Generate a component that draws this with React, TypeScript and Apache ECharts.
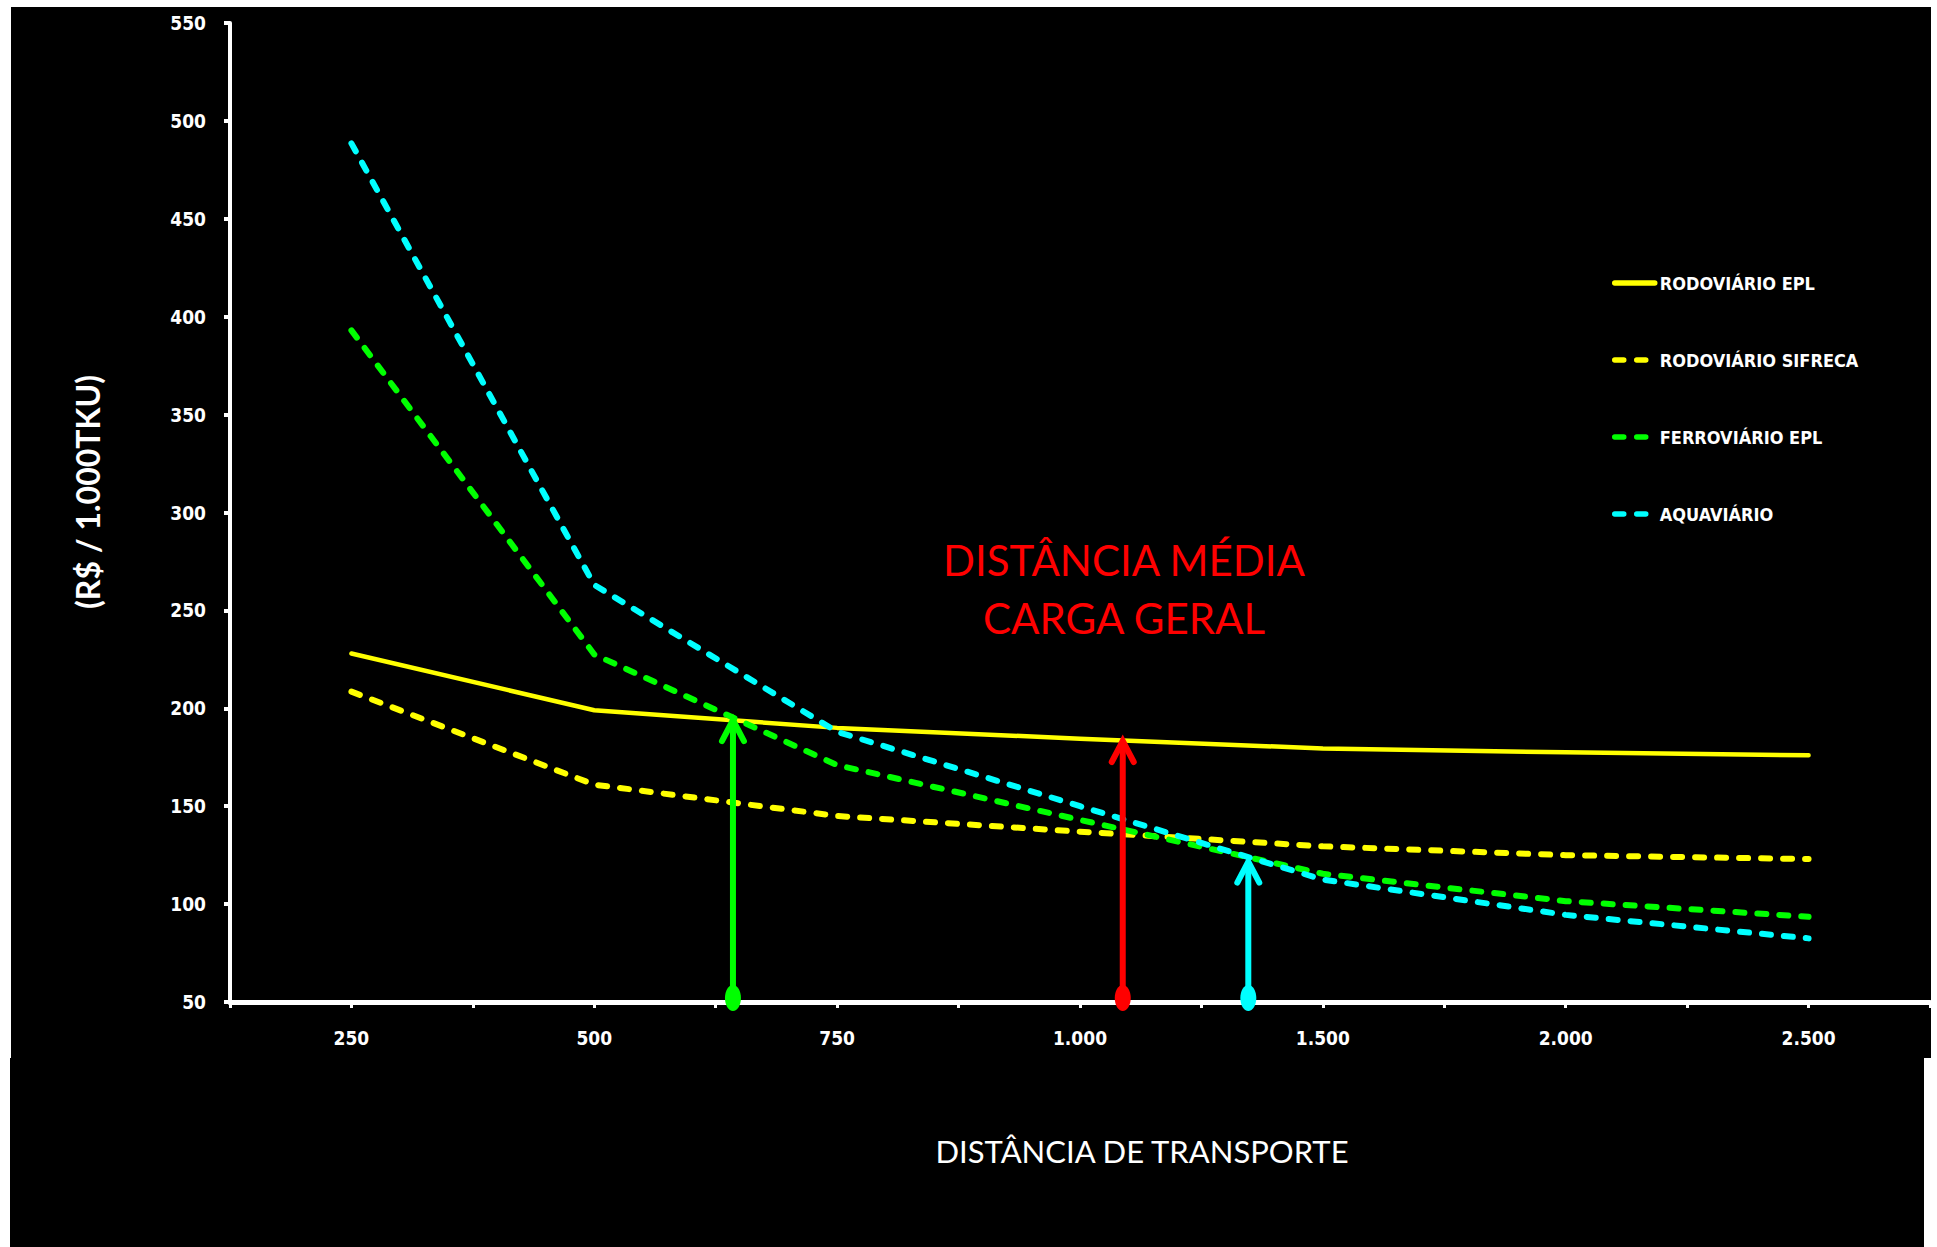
import React, { useEffect, useRef } from 'react';
import * as echarts from 'echarts';

// ---- data ----
const categories = ['250', '500', '750', '1.000', '1.500', '2.000', '2.500'];
const seriesNames = ['RODOVIÁRIO EPL', 'RODOVIÁRIO SIFRECA', 'FERROVIÁRIO EPL', 'AQUAVIÁRIO'];
const rodoviarioEpl = [228, 199, 190, 184.5, 179.5, 177.5, 176];
const rodoviarioSifreca = [208.5, 161, 145, 137, 129.5, 125, 123];
const ferroviarioEpl = [393, 227.5, 171, 143, 115.5, 101.5, 93.5];
const aquaviario = [488.5, 263, 188, 150, 112.5, 94.5, 82.5];
const yMin = 50;
const yMax = 550;
const yStep = 50;
// arrows: position along the category index scale, and the value they point to
const arrowX = [1.571, 3.176, 3.693];
const arrowY = [194, 183.3, 121.7];
const yAxisTitle = '(R$ / 1.000TKU)';
const xAxisTitle = 'DISTÂNCIA DE TRANSPORTE';
const noteLines = ['DISTÂNCIA MÉDIA', 'CARGA GERAL'];

// ---- styles ----
const YELLOW = '#FFFF00';
const GREEN = '#00FF00';
const CYAN = '#00FFFF';
const RED = '#FF0000';
const seriesColors = [YELLOW, YELLOW, GREEN, CYAN];
const seriesDashed = [false, true, true, true];
const arrowColors = [GREEN, RED, CYAN];
const NARROW = '"Liberation Sans Narrow", "DejaVu Sans Condensed", "Arial Narrow", sans-serif';
const LATO = 'Lato, "Open Sans", sans-serif';

function lineStyleFor(s: number) {
  return seriesDashed[s]
    ? { color: seriesColors[s], width: 6, type: [9, 13], cap: 'round', join: 'round' }
    : { color: seriesColors[s], width: 4.5, type: 'solid', cap: 'round', join: 'round' };
}

export default function App() {
  const ref = useRef<HTMLDivElement>(null);

  useEffect(() => {
    if (!ref.current) return;
    const chart = echarts.init(ref.current, null, { renderer: 'svg' });
    const values = [rodoviarioEpl, rodoviarioSifreca, ferroviarioEpl, aquaviario];

    const lineSeries = values.map((vals, s) => ({
      name: seriesNames[s],
      type: 'line',
      data: vals.map((v, i) => [i, v]),
      symbol: 'none',
      showSymbol: false,
      z: 3 + s,
      lineStyle: lineStyleFor(s),
      itemStyle: { color: seriesColors[s] },
    }));

    const arrowSeries = {
      type: 'custom',
      coordinateSystem: 'cartesian2d',
      clip: false,
      z: 10,
      silent: true,
      data: arrowX.map((x, i) => [x, arrowY[i]]),
      renderItem: (params: any, api: any) => {
        const xv = api.value(0);
        const yv = api.value(1);
        const tip = api.coord([xv, yv]);
        const base = api.coord([xv, yMin]);
        const color = arrowColors[params.dataIndex];
        return {
          type: 'group',
          children: [
            {
              type: 'line',
              shape: { x1: base[0], y1: base[1] - 8, x2: tip[0], y2: tip[1] + 3 },
              style: { stroke: color, lineWidth: 6 },
            },
            {
              type: 'polyline',
              shape: {
                points: [
                  [tip[0] - 11, tip[1] + 21],
                  [tip[0], tip[1]],
                  [tip[0] + 11, tip[1] + 21],
                ],
              },
              style: { stroke: color, lineWidth: 6, fill: 'none', lineCap: 'round', lineJoin: 'miter' },
            },
            {
              type: 'ellipse',
              shape: { cx: base[0], cy: base[1] - 4, rx: 8, ry: 13 },
              style: { fill: color },
            },
          ],
        };
      },
    };

    chart.setOption({
      animation: false,
      backgroundColor: 'transparent',
      grid: { left: 230, top: 23, right: 7, bottom: 245, containLabel: false },
      legend: {
        data: seriesNames.map((name, s) => ({
          name,
          itemStyle: { color: 'transparent', borderColor: 'transparent', borderWidth: 0 },
          lineStyle: { ...lineStyleFor(s), width: 5.5 },
        })),
        orient: 'vertical',
        left: 1612,
        top: 271,
        padding: 0,
        itemWidth: 40,
        itemHeight: 14,
        itemGap: 53,
        selectedMode: false,
        textStyle: {
          color: '#FFFFFF',
          fontWeight: 'bold',
          fontSize: 18,
          lineHeight: 24,
          fontFamily: NARROW,
        },
      },
      xAxis: {
        type: 'value',
        min: -0.5,
        max: 6.5,
        interval: 0.5,
        splitLine: { show: false },
        axisLine: { show: true, onZero: false, lineStyle: { color: '#FFFFFF', width: 5 } },
        axisTick: { show: true, length: 6, lineStyle: { color: '#FFFFFF', width: 3 } },
        axisLabel: {
          show: true,
          margin: 26,
          color: '#FFFFFF',
          fontWeight: 'bold',
          fontSize: 19,
          fontFamily: NARROW,
          showMinLabel: true,
          showMaxLabel: true,
          formatter: (v: number) => {
            const i = Math.round(v);
            return Math.abs(v - i) < 1e-6 && i >= 0 && i < categories.length ? categories[i] : '';
          },
        },
      },
      yAxis: {
        type: 'value',
        min: yMin,
        max: yMax,
        interval: yStep,
        splitLine: { show: false },
        axisLine: { show: true, onZero: false, lineStyle: { color: '#FFFFFF', width: 4 } },
        axisTick: { show: true, length: 6, lineStyle: { color: '#FFFFFF', width: 4 } },
        axisLabel: {
          margin: 24,
          color: '#FFFFFF',
          fontWeight: 'bold',
          fontSize: 19,
          fontFamily: NARROW,
        },
      },
      graphic: [
        {
          type: 'text',
          x: 87,
          y: 492,
          rotation: Math.PI / 2,
          silent: true,
          style: {
            text: yAxisTitle,
            fill: '#FFFFFF',
            fontSize: 32,
            fontWeight: 'bold',
            fontFamily: LATO,
            textAlign: 'center',
            textVerticalAlign: 'middle',
          },
        },
        {
          type: 'text',
          x: 1142,
          y: 1151,
          silent: true,
          style: {
            text: xAxisTitle,
            fill: '#FFFFFF',
            fontSize: 31,
            fontFamily: LATO,
            textAlign: 'center',
            textVerticalAlign: 'middle',
          },
        },
        {
          type: 'text',
          x: 1124,
          y: 560,
          silent: true,
          style: {
            text: noteLines[0],
            fill: RED,
            fontSize: 42,
            fontFamily: LATO,
            textAlign: 'center',
            textVerticalAlign: 'middle',
          },
        },
        {
          type: 'text',
          x: 1124,
          y: 618,
          silent: true,
          style: {
            text: noteLines[1],
            fill: RED,
            fontSize: 42,
            fontFamily: LATO,
            textAlign: 'center',
            textVerticalAlign: 'middle',
          },
        },
      ],
      series: [...lineSeries, arrowSeries],
    });

    return () => {
      chart.dispose();
    };
  }, []);

  return (
    <div
      style={{
        position: 'fixed',
        left: 0,
        top: 0,
        width: 1937,
        height: 1247,
        background: '#FFFFFF',
        overflow: 'hidden',
      }}
    >
      <div style={{ position: 'absolute', left: 11, top: 7, width: 1920, height: 1051, background: '#000000' }} />
      <div style={{ position: 'absolute', left: 10, top: 1058, width: 1914, height: 189, background: '#000000' }} />
      <div ref={ref} style={{ position: 'absolute', left: 0, top: 0, width: 1937, height: 1247 }} />
    </div>
  );
}
